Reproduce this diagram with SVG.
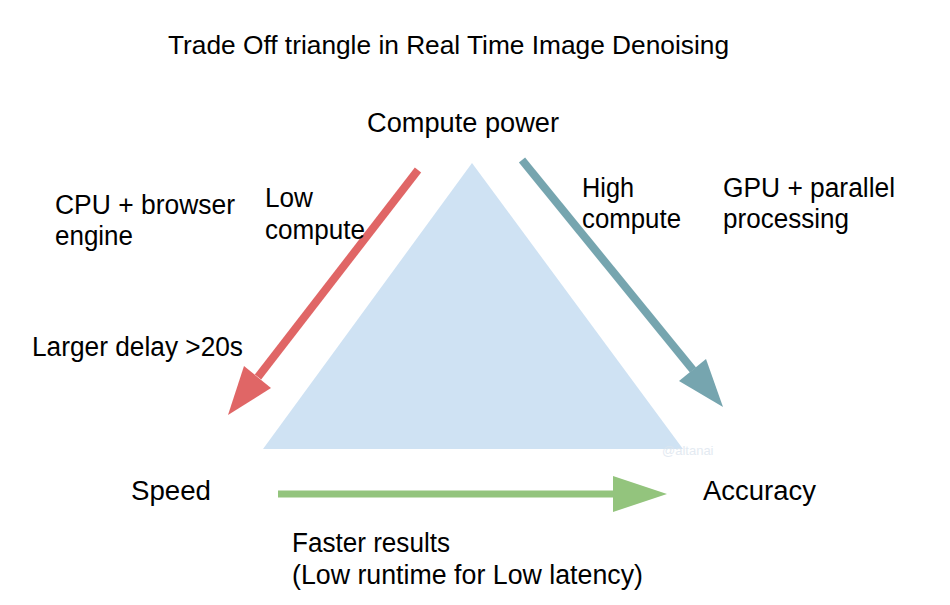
<svg xmlns="http://www.w3.org/2000/svg" width="950" height="605" viewBox="0 0 950 605">
<style>
text{font-family:"Liberation Sans",Arial,sans-serif;fill:#000;}
.t{font-size:27px;}
.title{font-size:25px;}
.wm{font-size:13px;fill:#dde6ef;opacity:0.8;}
</style>
<rect width="950" height="605" fill="#ffffff"/>
<g id="triangle">
<polygon points="472,163 263,449 683,449" fill="#cfe2f3"/>
</g>
<g id="connectors">
<g id="arrow-low">
<line x1="418" y1="170" x2="258" y2="377" stroke="#e06666" stroke-width="8"/>
<polygon points="228,415 271,388 244,366" fill="#e06666"/>
</g>
<g id="arrow-high">
<line x1="522" y1="160" x2="693" y2="370" stroke="#76a5af" stroke-width="8"/>
<polygon points="723,407 706,359 679,381" fill="#76a5af"/>
</g>
<g id="arrow-speed">
<line x1="278" y1="494" x2="616" y2="494" stroke="#93c47d" stroke-width="7"/>
<polygon points="613,476 667,494 613,512" fill="#93c47d"/>
</g>
</g>
<g id="title"><text class="title" x="168" y="54" textLength="561" lengthAdjust="spacingAndGlyphs">Trade Off triangle in Real Time Image Denoising</text></g>
<g id="node-compute"><text class="t" x="367" y="132" textLength="192" lengthAdjust="spacingAndGlyphs">Compute power</text></g>
<g id="node-speed"><text class="t" x="131" y="500" textLength="80" lengthAdjust="spacingAndGlyphs">Speed</text></g>
<g id="node-accuracy"><text class="t" x="703" y="500" textLength="113" lengthAdjust="spacingAndGlyphs">Accuracy</text></g>
<g id="label-cpu">
<text class="t" x="55" y="214" textLength="180" lengthAdjust="spacingAndGlyphs">CPU + browser</text>
<text class="t" x="55" y="245" textLength="78" lengthAdjust="spacingAndGlyphs">engine</text>
</g>
<g id="label-low">
<text class="t" x="265" y="207" textLength="48" lengthAdjust="spacingAndGlyphs">Low</text>
<text class="t" x="265" y="239" textLength="100" lengthAdjust="spacingAndGlyphs">compute</text>
</g>
<g id="label-delay"><text class="t" x="32" y="356" textLength="211" lengthAdjust="spacingAndGlyphs">Larger delay &gt;20s</text></g>
<g id="label-high">
<text class="t" x="582" y="197" textLength="52" lengthAdjust="spacingAndGlyphs">High</text>
<text class="t" x="582" y="228" textLength="99" lengthAdjust="spacingAndGlyphs">compute</text>
</g>
<g id="label-gpu">
<text class="t" x="723" y="197" textLength="172" lengthAdjust="spacingAndGlyphs">GPU + parallel</text>
<text class="t" x="723" y="228" textLength="126" lengthAdjust="spacingAndGlyphs">processing</text>
</g>
<g id="label-faster">
<text class="t" x="292" y="552" textLength="158" lengthAdjust="spacingAndGlyphs">Faster results</text>
<text class="t" x="292" y="584" textLength="351" lengthAdjust="spacingAndGlyphs">(Low runtime for Low latency)</text>
</g>
<g id="watermark"><text class="wm" x="662" y="455">@altanai</text></g>
</svg>
